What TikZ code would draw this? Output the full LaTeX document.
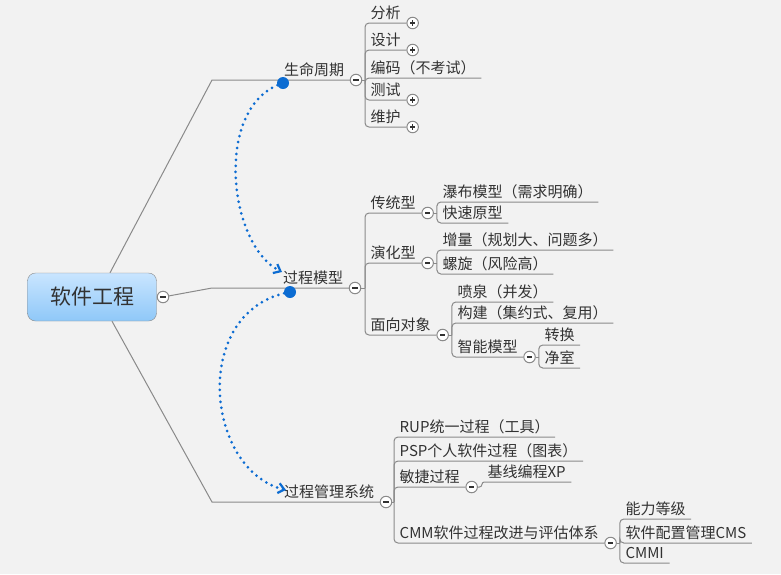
\documentclass[tikz,border=0pt]{standalone}
\usepackage{fontspec}
\setmainfont{Noto Sans CJK SC}
\usepackage{tikz}
\usetikzlibrary{positioning,calc}
\usetikzlibrary{arrows.meta}
\definecolor{sfondo}{RGB}{242,242,242}
\definecolor{linea}{RGB}{138,138,138}
\definecolor{testo}{RGB}{50,50,50}
\definecolor{blu}{RGB}{12,108,210}
\definecolor{cielo1}{RGB}{201,229,255}
\definecolor{cielo2}{RGB}{143,200,248}
\tikzstyle{radice} = [rectangle, rounded corners=8pt, minimum width=129pt, minimum height=48pt,
draw=linea, top color=cielo1, bottom color=cielo2, text=testo, font=\fontsize{21pt}{24pt}\selectfont]
\tikzstyle{voce} = [anchor=south west, inner xsep=5.5pt, inner ysep=4pt, text depth=0pt,
text=testo, font=\fontsize{15pt}{18pt}\selectfont]
\tikzstyle{capo} = [voce, anchor=south east]
\tikzstyle{piega} = [circle, draw=linea, line width=1pt, fill=white, minimum size=11.5pt, inner sep=0pt]
\tikzstyle{meno} = [piega, path picture={\draw[line width=1.1pt, testo]
([xshift=-2.6pt]path picture bounding box.center) -- ([xshift=2.6pt]path picture bounding box.center);}]
\tikzstyle{piu} = [piega, path picture={\draw[line width=1.1pt, testo]
([xshift=-2.6pt]path picture bounding box.center) -- ([xshift=2.6pt]path picture bounding box.center)
([yshift=-2.6pt]path picture bounding box.center) -- ([yshift=2.6pt]path picture bounding box.center);}]
\tikzstyle{tronco} = [draw=linea, line width=1pt]
\tikzstyle{ramo} = [draw=linea, line width=1pt, rounded corners=4pt]
\tikzstyle{punto} = [circle, fill=blu, minimum size=12pt, inner sep=0pt]
\tikzstyle{relazione} = [blu, line width=3pt, line cap=round, dash pattern=on 0pt off 6pt,
-{Straight Barb[length=6pt,width=10pt,line width=2.2pt]}]

\begin{document}
\begin{tikzpicture}[x=1pt, y=-1pt]
				\fill[sfondo] (0,0) rectangle (781,574);
				\useasboundingbox (0,0) rectangle (781,574);
				% radice
				\node (sw) at (92,297) [radice] {软件工程};
				\node (sw-c) at (163,297) [meno] {};
				% primo livello
				\node (ciclo-c) at (356,80) [meno] {};
				\node (ciclo) at (ciclo-c.west) [capo] {生命周期};
				\node (proc-c) at (355,288) [meno] {};
				\node (proc) at (proc-c.west) [capo] {过程模型};
				\node (gest-c) at (386,502) [meno] {};
				\node (gest) at (gest-c.west) [capo] {过程管理系统};
				\coordinate (k1) at (212,80);
				\coordinate (k2) at (212,288);
				\coordinate (k3) at (212,502);
				\draw[tronco] ([xshift=18pt]sw.north) -- (k1) -- (ciclo-c);
				\draw[tronco] (sw-c) -- (k2) -- (proc-c);
				\draw[tronco] ([xshift=20pt]sw.south) -- (k3) -- (gest-c);
				% generazione del ciclo di vita
				\coordinate (b1) at (365,80);
				\node (fx) at (365,23) [voce] {分析};
				\node (fx-c) [piu, right=0pt of fx.south east] {};
				\node (sj) at (365,50) [voce] {设计};
				\node (sj-c) [piu, right=0pt of sj.south east] {};
				\node (bm) at (365,78) [voce] {编码（不考试）};
				\node (cs) at (365,100) [voce] {测试};
				\node (cs-c) [piu, right=0pt of cs.south east] {};
				\node (wh) at (365,127) [voce] {维护};
				\node (wh-c) [piu, right=0pt of wh.south east] {};
				\draw[ramo] (ciclo-c) -- (b1);
				\foreach \n in {fx,sj,bm,cs,wh}
					\draw[ramo] (b1) |- (\n.south east);
				% modelli di processo
				\coordinate (b2) at (365,288);
				\node (ct) at (365,213) [voce] {传统型};
				\node (ct-c) [meno, right=0pt of ct.south east] {};
				\node (yh) at (365,263) [voce] {演化型};
				\node (yh-c) [meno, right=0pt of yh.south east] {};
				\node (mx) at (365,335) [voce] {面向对象};
				\node (mx-c) [meno, right=0pt of mx.south east] {};
				\draw[ramo] (proc-c) -- (b2);
				\foreach \n in {ct,yh,mx}
					\draw[ramo] (b2) |- (\n.south east);
				\coordinate (bct) at ([xshift=3pt]ct-c.east);
				\node (pb) at (bct |- 0,202) [voce] {瀑布模型（需求明确）};
				\node (ks) at (bct |- 0,223) [voce] {快速原型};
				\draw[ramo] (ct-c) -- (bct);
				\foreach \n in {pb,ks}
					\draw[ramo] (bct) |- (\n.south east);
				\coordinate (byh) at ([xshift=3pt]yh-c.east);
				\node (zl) at (byh |- 0,250) [voce] {增量（规划大、问题多）};
				\node (lx) at (byh |- 0,274) [voce] {螺旋（风险高）};
				\draw[ramo] (yh-c) -- (byh);
				\foreach \n in {zl,lx}
					\draw[ramo] (byh) |- (\n.south east);
				\coordinate (bmx) at ([xshift=3pt]mx-c.east);
				\node (pq) at (bmx |- 0,302) [voce] {喷泉（并发）};
				\node (gj) at (bmx |- 0,323) [voce] {构建（集约式、复用）};
				\node (zn) at (bmx |- 0,357) [voce] {智能模型};
				\node (zn-c) [meno, right=0pt of zn.south east] {};
				\draw[ramo] (mx-c) -- (bmx);
				\foreach \n in {pq,gj,zn}
					\draw[ramo] (bmx) |- (\n.south east);
				\coordinate (bzn) at ([xshift=3pt]zn-c.east);
				\node (zh) at (bzn |- 0,345) [voce] {转换};
				\node (js) at (bzn |- 0,368) [voce] {净室};
				\draw[ramo] (zn-c) -- (bzn);
				\foreach \n in {zh,js}
					\draw[ramo] (bzn) |- (\n.south east);
				% gestione dei processi
				\coordinate (b3) at (394,502);
				\node (rup) at (394,437) [voce] {RUP统一过程（工具）};
				\node (psp) at (394,461) [voce] {PSP个人软件过程（图表）};
				\node (mj) at (394,487) [voce] {敏捷过程};
				\node (mj-c) [meno, right=0pt of mj.south east] {};
				\node (cmm) at (394,543) [voce] {CMM软件过程改进与评估体系};
				\node (cmm-c) [meno, right=0pt of cmm.south east] {};
				\draw[ramo] (gest-c) -- (b3);
				\foreach \n in {rup,psp,mj,cmm}
					\draw[ramo] (b3) |- (\n.south east);
				\coordinate (bmj) at ([xshift=4pt]mj-c.east);
				\node (xp) at (bmj |- 0,482) [voce] {基线编程XP};
				\draw[ramo, rounded corners=2.5pt] (mj-c) -- (bmj) |- (xp.south east);
				\coordinate (bcmm) at ([xshift=3pt]cmm-c.east);
				\node (nl) at (bcmm |- 0,519) [voce] {能力等级};
				\node (pz) at (bcmm |- 0,543) [voce] {软件配置管理CMS};
				\node (cmmi) at (bcmm |- 0,563) [voce] {CMMI};
				\draw[ramo] (cmm-c) -- (bcmm);
				\foreach \n in {nl,pz,cmmi}
					\draw[ramo] (bcmm) |- (\n.south east);
				% relazioni
				\coordinate (f1) at (282,272);
				\coordinate (f2) at (286,490);
				\draw[relazione] (283,83) .. controls (213,105) and (228,245) .. (f1);
				\draw[relazione] (290,292) .. controls (190,310) and (205,470) .. (f2);
				\node (p1) at (283,83) [punto] {};
				\node (p2) at (290,292) [punto] {};
\end{tikzpicture}
\end{document}
